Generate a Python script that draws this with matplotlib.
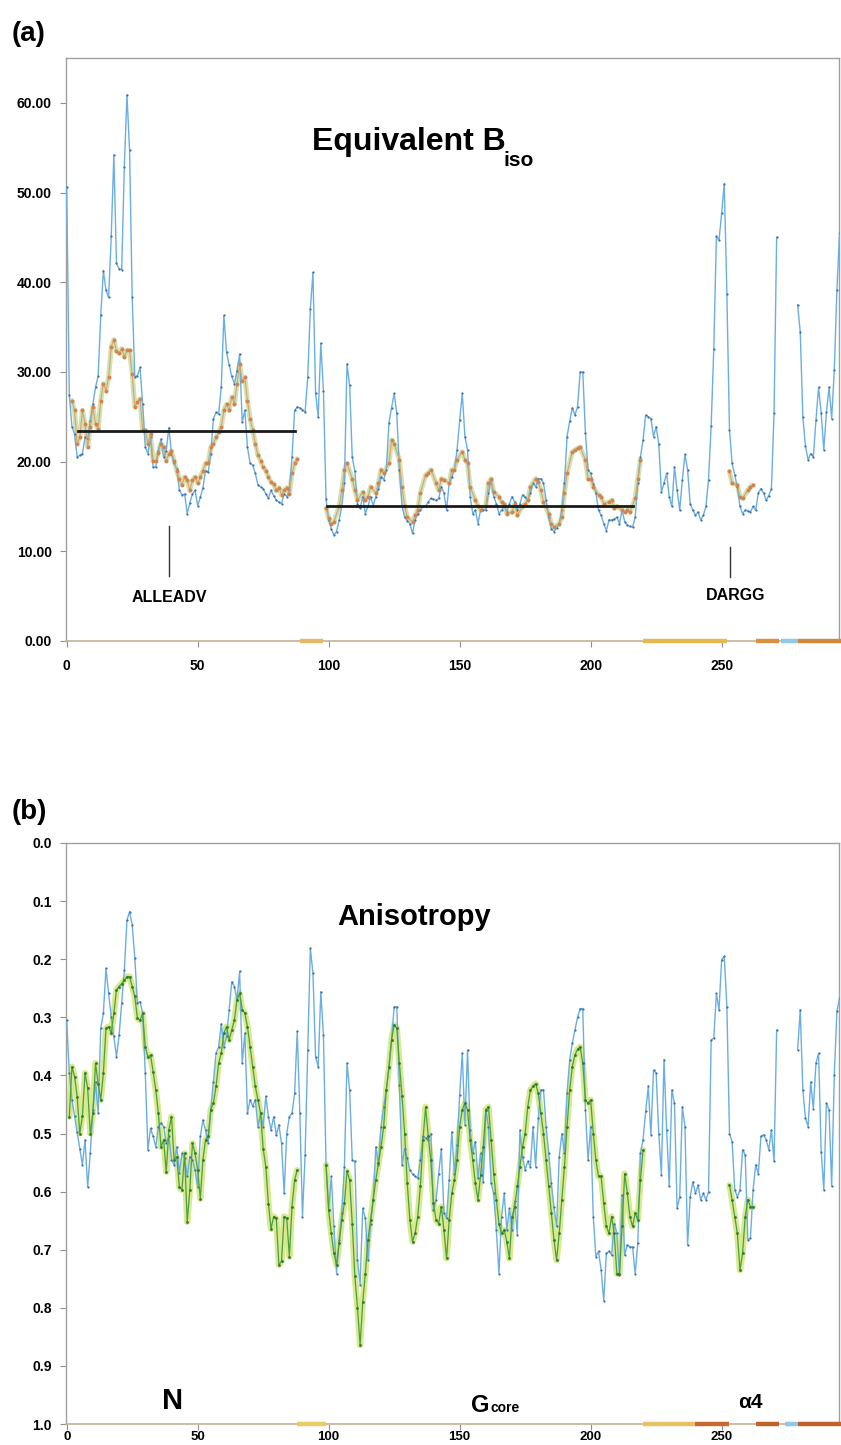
"""Equivalent B_iso and anisotropy per residue, two stacked panels."""
import numpy as np
import matplotlib
matplotlib.use('Agg')
import matplotlib.pyplot as plt

plt.rcParams['font.family'] = ['Liberation Sans', 'DejaVu Sans']
plt.rcParams['font.weight'] = 'bold'

nan = np.nan

# ---- panel (a): equivalent B_iso, one value per residue starting at residue 0
biso_start = 0
biso = [
    50.6, 27.4, 23.9, 23.1, 20.5, 20.7, 20.9, 22.7, 22.5, 24.5,
    26.4, 28.3, 29.5, 36.3, 41.3, 39.1, 38.3, 45.1, 54.2, 42.1,
    41.5, 41.4, 52.9, 60.9, 54.7, 38.3, 29.4, 29.6, 30.5, 26.4,
    21.6, 20.9, 22.7, 19.4, 19.4, 21.2, 22.5, 20.5, 21.2, 23.8,
    20.9, 19.8, 19.2, 16.8, 16.3, 16.4, 14.2, 15.4, 16.4, 16.8,
    15.1, 16.0, 17.1, 19.0, 18.8, 20.9, 24.8, 25.5, 25.3, 28.3,
    36.3, 32.2, 30.8, 29.5, 28.7, 30.1, 32.0, 24.4, 25.7, 21.6,
    19.8, 19.6, 18.7, 17.4, 17.2, 17.0, 16.4, 15.9, 16.8, 16.2,
    15.7, 15.5, 15.3, 16.4, 16.1, 16.8, 20.5, 25.7, 26.1, 26.0,
    25.8, 25.5, 29.4, 37.0, 41.1, 27.6, 25.0, 33.2, 27.9, 15.8,
    13.5, 12.5, 11.8, 12.2, 13.5, 15.0, 17.6, 30.9, 28.5, 20.5,
    18.9, 15.3, 14.8, 16.1, 14.2, 15.0, 16.1, 15.1, 16.1, 17.0,
    18.3, 18.0, 19.1, 24.3, 26.0, 27.6, 25.4, 19.1, 15.0, 13.8,
    13.4, 13.1, 12.0, 13.5, 14.2, 14.6, 15.0, 15.0, 15.5, 15.9,
    15.8, 15.7, 15.9, 17.2, 16.5, 14.6, 17.6, 18.3, 19.1, 21.3,
    24.6, 27.6, 22.8, 21.3, 16.1, 14.2, 14.6, 13.1, 14.6, 14.6,
    14.6, 16.5, 18.0, 16.1, 15.3, 14.2, 14.6, 15.0, 14.4, 15.3,
    16.1, 15.5, 14.6, 15.3, 16.3, 16.0, 15.7, 16.5, 17.6, 17.2,
    18.1, 18.1, 17.6, 15.7, 13.8, 12.5, 12.2, 12.6, 13.1, 14.6,
    17.6, 22.8, 24.5, 26.0, 25.2, 26.1, 30.0, 30.0, 23.2, 19.1,
    18.7, 17.5, 16.5, 14.6, 14.0, 13.1, 12.3, 13.5, 13.5, 13.6,
    13.8, 13.1, 14.6, 13.3, 12.9, 12.8, 12.7, 13.8, 17.6, 20.5,
    22.4, 25.2, 25.0, 24.8, 22.8, 23.9, 22.0, 16.6, 17.6, 18.7,
    16.1, 15.0, 19.4, 16.8, 14.6, 18.0, 20.8, 19.1, 15.3, 14.6,
    14.0, 14.4, 13.5, 14.0, 15.0, 18.0, 24.0, 32.6, 45.1, 44.7,
    47.7, 51.0, 38.7, 23.5, 19.8, 18.5, 17.2, 15.0, 14.2, 14.6,
    14.5, 14.4, 15.0, 14.6, 16.5, 17.0, 16.5, 15.7, 16.2, 17.0,
    25.4, 45.0, nan, nan, nan, nan, nan, nan, nan, 37.5,
    34.5, 25.0, 21.7, 20.2, 20.9, 20.5, 24.6, 28.3, 25.4, 21.3,
    25.5, 28.3, 24.8, 30.2, 39.1, 45.5,
]

# smoothed B_iso (orange), three stretches
smooth1_start = 2
smooth1 = [
    26.8, 25.7, 22.0, 22.7, 25.7, 24.2, 21.6, 23.9, 26.1, 24.2,
    23.6, 26.8, 28.7, 27.9, 29.4, 32.8, 33.6, 32.3, 32.1, 32.6,
    31.7, 32.4, 32.4, 29.8, 26.1, 26.7, 27.0, 23.5, 23.5, 22.0,
    23.1, 20.1, 20.1, 21.0, 22.0, 21.6, 20.1, 20.9, 21.2, 20.1,
    19.0, 18.1, 17.4, 18.3, 17.9, 16.8, 17.9, 18.3, 17.6, 18.3,
    19.0, 19.8, 19.9, 21.6, 22.0, 22.7, 23.3, 23.9, 25.7, 26.4,
    25.7, 27.2, 26.4, 28.7, 30.9, 29.0, 29.4, 26.8, 24.8, 23.5,
    22.0, 20.7, 20.1, 19.4, 19.0, 18.3, 17.7, 17.5, 16.8, 17.1,
    16.3, 16.8, 17.1, 16.4, 18.7, 19.8, 20.3,
]
smooth2_res = [
    99, 100, 101, 102, 104, 105, 106, 107, 109, 110, 111, 113, 114, 115, 116,
    118, 119, 120, 121, 123, 124, 125, 127, 128, 129, 130, 132, 133, 134, 135,
    137, 138, 139, 141, 142, 143, 144, 146, 147, 148, 149, 151, 152, 153, 154,
    156, 157, 158, 160, 161, 162, 163, 165, 166, 167, 168, 170, 171, 172, 174,
    175, 176, 177, 179, 180, 181, 182, 184, 185, 186, 188, 189, 190, 191, 193,
    194, 195, 196, 198, 199, 200, 201, 203, 204, 205, 207, 208, 209, 210, 212,
    213, 214, 215, 217, 218, 219,
]
smooth2 = [
    14.8, 13.7, 13.1, 13.3, 15.0, 16.8, 19.1, 19.8, 18.1, 16.8,
    15.7, 16.6, 15.7, 16.1, 17.2, 16.5, 17.6, 19.1, 18.7, 19.8,
    22.4, 22.0, 20.2, 17.2, 15.0, 13.8, 13.3, 14.0, 14.6, 16.5,
    18.5, 18.7, 19.1, 17.6, 16.8, 18.1, 18.0, 17.6, 19.1, 19.1,
    20.2, 21.1, 20.2, 19.8, 17.2, 15.7, 15.0, 14.6, 15.1, 17.6,
    18.1, 16.6, 16.1, 15.5, 15.3, 14.2, 14.4, 15.3, 14.0, 15.0,
    15.3, 15.7, 17.2, 18.1, 17.7, 16.8, 15.5, 14.2, 13.1, 12.7,
    13.1, 13.8, 16.5, 18.7, 21.1, 21.3, 21.5, 21.6, 20.2, 18.1,
    18.1, 17.2, 16.3, 16.1, 15.3, 15.5, 15.7, 14.8, 15.0, 14.6,
    14.4, 14.6, 14.4, 15.9, 18.1, 20.2,
]
smooth3_res = [253, 254, 256, 257, 258, 260, 261, 262]
smooth3 = [18.9, 17.6, 17.4, 16.1, 15.9, 16.8, 17.2, 17.4]

# mean B over the two domains (black bars): (first res, last res, value)
mean_bars = [(4.4, 87.1, 23.4), (99.5, 216.3, 15.0)]

# sequence markers: (residue, label)
motifs = [(39, 'ALLEADV'), (253.2, 'DARGG')]

# ---- panel (b): anisotropy
aniso_start = 0
aniso = [
    0.305, 0.396, 0.442, 0.470, 0.497, 0.526, 0.554, 0.511, 0.592, 0.534,
    0.460, 0.411, 0.465, 0.319, 0.293, 0.216, 0.259, 0.299, 0.333, 0.368,
    0.331, 0.276, 0.219, 0.133, 0.118, 0.141, 0.198, 0.276, 0.273, 0.293,
    0.396, 0.528, 0.491, 0.505, 0.523, 0.488, 0.482, 0.488, 0.517, 0.505,
    0.545, 0.554, 0.523, 0.568, 0.534, 0.543, 0.574, 0.540, 0.545, 0.563,
    0.592, 0.505, 0.477, 0.494, 0.517, 0.459, 0.411, 0.362, 0.351, 0.311,
    0.351, 0.333, 0.288, 0.239, 0.247, 0.270, 0.221, 0.379, 0.327, 0.465,
    0.442, 0.453, 0.442, 0.488, 0.465, 0.488, 0.436, 0.471, 0.494, 0.471,
    0.503, 0.485, 0.517, 0.603, 0.500, 0.471, 0.465, 0.431, 0.324, 0.465,
    0.643, 0.537, 0.356, 0.181, 0.224, 0.368, 0.385, 0.256, 0.330, 0.554,
    0.632, 0.574, 0.660, 0.741, 0.683, 0.637, 0.557, 0.379, 0.425, 0.546,
    0.548, 0.718, 0.760, 0.629, 0.646, 0.718, 0.655, 0.614, 0.523, 0.554,
    0.488, 0.454, 0.425, 0.388, 0.339, 0.282, 0.282, 0.417, 0.554, 0.526,
    0.543, 0.563, 0.570, 0.574, 0.577, 0.546, 0.505, 0.508, 0.511, 0.500,
    0.632, 0.614, 0.569, 0.526, 0.637, 0.646, 0.580, 0.497, 0.569, 0.520,
    0.434, 0.362, 0.485, 0.356, 0.494, 0.534, 0.514, 0.577, 0.534, 0.583,
    0.459, 0.488, 0.586, 0.603, 0.666, 0.741, 0.643, 0.603, 0.666, 0.629,
    0.666, 0.617, 0.674, 0.494, 0.540, 0.563, 0.548, 0.557, 0.488, 0.557,
    0.474, 0.425, 0.425, 0.488, 0.534, 0.586, 0.626, 0.660, 0.540, 0.500,
    0.534, 0.431, 0.373, 0.345, 0.322, 0.300, 0.285, 0.285, 0.459, 0.546,
    0.488, 0.643, 0.712, 0.703, 0.735, 0.788, 0.706, 0.703, 0.709, 0.655,
    0.672, 0.744, 0.606, 0.709, 0.692, 0.695, 0.695, 0.741, 0.689, 0.534,
    0.511, 0.462, 0.419, 0.502, 0.391, 0.396, 0.500, 0.571, 0.373, 0.494,
    0.591, 0.425, 0.448, 0.629, 0.609, 0.454, 0.488, 0.692, 0.609, 0.583,
    0.603, 0.589, 0.614, 0.603, 0.614, 0.600, 0.339, 0.336, 0.259, 0.287,
    0.201, 0.195, 0.282, 0.500, 0.514, 0.597, 0.609, 0.597, 0.528, 0.537,
    0.683, 0.680, 0.597, 0.554, 0.569, 0.505, 0.502, 0.511, 0.528, 0.494,
    0.548, 0.322, nan, nan, nan, nan, nan, nan, nan, 0.356,
    0.287, 0.425, 0.474, 0.488, 0.411, 0.457, 0.379, 0.362, 0.531, 0.597,
    0.448, 0.459, 0.591, 0.399, 0.290, 0.267,
]

# smoothed anisotropy (green), three stretches
green1_start = 1
green1 = [
    0.471, 0.385, 0.402, 0.437, 0.500, 0.470, 0.396, 0.422, 0.500, 0.465,
    0.379, 0.414, 0.442, 0.396, 0.319, 0.316, 0.327, 0.293, 0.253, 0.247,
    0.242, 0.236, 0.230, 0.230, 0.247, 0.264, 0.302, 0.305, 0.293, 0.351,
    0.368, 0.365, 0.394, 0.425, 0.465, 0.523, 0.511, 0.566, 0.494, 0.471,
    0.545, 0.540, 0.592, 0.597, 0.534, 0.652, 0.597, 0.517, 0.534, 0.563,
    0.612, 0.545, 0.511, 0.505, 0.459, 0.448, 0.419, 0.379, 0.362, 0.327,
    0.316, 0.339, 0.322, 0.305, 0.270, 0.259, 0.287, 0.293, 0.316, 0.351,
    0.385, 0.419, 0.442, 0.465, 0.526, 0.557, 0.621, 0.664, 0.643, 0.646,
    0.726, 0.720, 0.643, 0.646, 0.712, 0.626, 0.580, 0.563,
]
green2_start = 99
green2 = [
    0.554, 0.632, 0.672, 0.706, 0.726, 0.689, 0.649, 0.620, 0.565, 0.580,
    0.655, 0.746, 0.800, 0.864, 0.790, 0.741, 0.683, 0.649, 0.614, 0.580,
    0.551, 0.523, 0.488, 0.425, 0.385, 0.339, 0.313, 0.319, 0.379, 0.436,
    0.500, 0.586, 0.649, 0.686, 0.672, 0.643, 0.591, 0.511, 0.454, 0.505,
    0.546, 0.620, 0.649, 0.655, 0.626, 0.666, 0.715, 0.649, 0.603, 0.580,
    0.546, 0.488, 0.459, 0.448, 0.459, 0.511, 0.546, 0.586, 0.614, 0.571,
    0.523, 0.459, 0.454, 0.511, 0.569, 0.614, 0.655, 0.672, 0.666, 0.686,
    0.715, 0.643, 0.626, 0.591, 0.557, 0.523, 0.500, 0.454, 0.425, 0.419,
    0.414, 0.431, 0.465, 0.500, 0.546, 0.591, 0.637, 0.683, 0.718, 0.672,
    0.614, 0.557, 0.488, 0.425, 0.385, 0.365, 0.355, 0.351, 0.379, 0.442,
    0.448, 0.442, 0.500, 0.546, 0.574, 0.574, 0.620, 0.660, 0.672, 0.643,
    0.672, 0.741, 0.741, 0.660, 0.569, 0.603, 0.643, 0.660, 0.637, 0.649,
    0.580, 0.528,
]
green3_start = 253
green3 = [0.589, 0.614, 0.643, 0.672, 0.735, 0.706, 0.643, 0.614, 0.626, 0.626]

# secondary-structure strip along the residue axis: (start, end, colour)
strip_a = [(89, 98, '#e3b868'), (220, 252, '#e6b950'), (263, 272, '#d8913e'),
           (272.5, 279, '#92c9e6'), (279, 296, '#d0883e')]
strip_b = [(88, 99, '#e8cc68'), (220, 240, '#e8c262'), (240, 253, '#c46a32'),
           (263, 272, '#c0622c'), (274, 279, '#8cc8e8'), (279, 296, '#c0622c')]

xticks = [0, 50, 100, 150, 200, 250]

BLUE = '#6aaee2'
BLUE_DOT = '#3f6f9f'


def res(start, vals):
    return np.arange(start, start + len(vals))


def style_axes(ax, strip, ybase, pad_x):
    for side in ['left', 'top', 'right']:
        ax.spines[side].set_color('#a0a0a0')
        ax.spines[side].set_linewidth(1.0)
    ax.spines['bottom'].set_color('#c4b296')
    ax.spines['bottom'].set_linewidth(1.2)
    ax.set_xlim(-0.38, 294.8)
    ax.set_xticks(xticks)
    ax.tick_params(axis='both', direction='out', length=4, width=0.8,
                   color='#909090', labelsize=10)
    ax.tick_params(axis='x', pad=pad_x)
    ax.tick_params(axis='y', pad=6)
    for lbl in ax.get_xticklabels() + ax.get_yticklabels():
        lbl.set_fontweight('bold')
    for x0, x1, c in strip:
        ax.plot([x0, x1], [ybase, ybase], color=c, lw=3.2,
                solid_capstyle='butt', clip_on=False, zorder=6)


fig = plt.figure(figsize=(8.41, 14.45), dpi=100)
W, H = 841.0, 1445.0
ax_a = fig.add_axes([65.7 / W, 1 - 641 / H, (839 - 65.7) / W, (641 - 58) / H])
ax_b = fig.add_axes([65.7 / W, 1 - 1424 / H, (839 - 65.7) / W, (1424 - 843) / H])

# ---------------- panel (a)
ax = ax_a
ax.plot(res(biso_start, biso), biso, color=BLUE, lw=1.0, marker='o', ms=1.6,
        mfc=BLUE_DOT, mec='none', zorder=3)
for xs, ys in [(res(smooth1_start, smooth1), smooth1),
               (smooth2_res, smooth2), (smooth3_res, smooth3)]:
    ax.plot(xs, ys, color='#c6dca0', lw=3.6, alpha=0.8, zorder=2,
            solid_capstyle='round')
    ax.plot(xs, ys, color='#dba070', lw=0.8, marker='o', ms=2.8,
            mfc='#d3834f', mec='none', zorder=4)
for x0, x1, y in mean_bars:
    ax.plot([x0, x1], [y, y], color='#1a1a1a', lw=2.0, zorder=5)

ax.plot([motifs[0][0]] * 2, [7.2, 12.8], color='#333333', lw=1.0)
ax.text(motifs[0][0], 4.9, motifs[0][1], ha='center', va='center',
        fontsize=11.5, fontweight='bold')
ax.plot([motifs[1][0]] * 2, [7.1, 10.5], color='#333333', lw=1.0)
ax.text(motifs[1][0] + 2.3, 5.1, motifs[1][1], ha='center', va='center',
        fontsize=11.5, fontweight='bold')

ax.text(0.3185, 0.842, 'Equivalent B', transform=ax.transAxes, ha='left',
        va='baseline', fontsize=23, fontweight='bold')
ax.text(0.566, 0.815, 'iso', transform=ax.transAxes, ha='left',
        va='baseline', fontsize=15, fontweight='bold')

ax.set_ylim(0, 65)
ax.set_yticks(np.arange(0, 61, 10))
ax.set_yticklabels(['%.2f' % v for v in np.arange(0, 61, 10)])
style_axes(ax, strip_a, 0, 9)

# ---------------- panel (b)
ax = ax_b
ax.plot(res(aniso_start, aniso), aniso, color=BLUE, lw=1.0, marker='o', ms=1.6,
        mfc=BLUE_DOT, mec='none', zorder=3)
for start, vals in [(green1_start, green1), (green2_start, green2),
                    (green3_start, green3)]:
    xs = res(start, vals)
    ax.plot(xs, vals, color='#d2e67a', lw=4.6, alpha=0.85, zorder=2,
            solid_capstyle='round')
    ax.plot(xs, vals, color='#4c9e44', lw=0.9, marker='o', ms=2.0,
            mfc='#2f7a30', mec='none', zorder=4)

ax.text(0.351, 0.859, 'Anisotropy', transform=ax.transAxes, ha='left',
        va='baseline', fontsize=21, fontweight='bold')
ax.text(40.6, 0.975, 'N', ha='center', va='baseline', fontsize=21,
        fontweight='bold')
ax.text(161.4, 0.979, 'G', ha='right', va='baseline', fontsize=17,
        fontweight='bold')
ax.text(161.6, 0.979, 'core', ha='left', va='baseline', fontsize=10,
        fontweight='bold')
ax.text(260.8, 0.972, '\u03b14', ha='center', va='baseline', fontsize=15,
        fontweight='bold')

ax.set_ylim(1.0, 0.0)
ax.set_yticks(np.arange(0, 1.01, 0.1))
ax.set_yticklabels(['%.1f' % v for v in np.arange(0, 1.01, 0.1)])
style_axes(ax, strip_b, 1.0, 1.0)
ax.tick_params(axis='x', labelsize=9.5)

fig.text(12 / W, 1 - 34 / H, '(a)', ha='left', va='center', fontsize=20,
         fontweight='bold')
fig.text(12 / W, 1 - 812 / H, '(b)', ha='left', va='center', fontsize=20,
         fontweight='bold')

fig.savefig('out.png', dpi=100)
print('Written out.png')
